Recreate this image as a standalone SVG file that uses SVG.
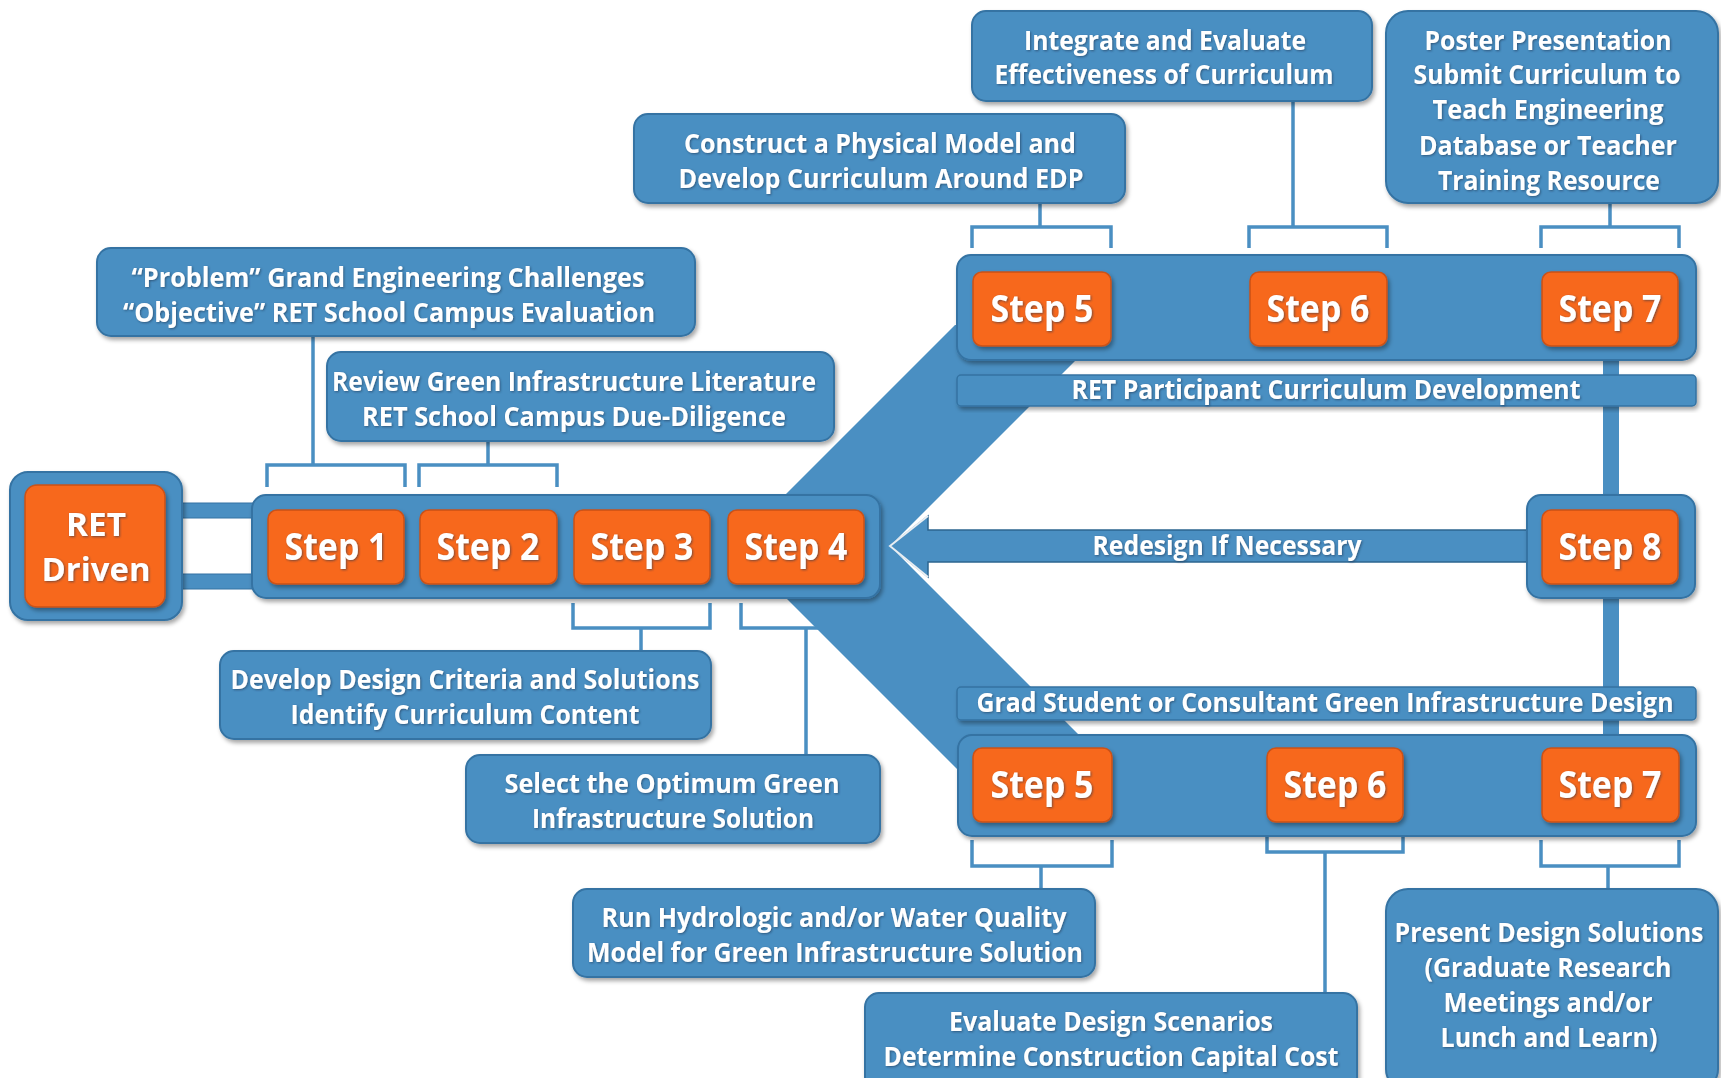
<svg xmlns="http://www.w3.org/2000/svg" width="1721" height="1078" viewBox="0 0 1721 1078">
<defs>
<filter id="sh" x="-10%" y="-10%" width="120%" height="130%"><feDropShadow dx="2" dy="3" stdDeviation="2" flood-color="#000" flood-opacity="0.35"/></filter>
<filter id="ts" x="-5%" y="-20%" width="110%" height="140%"><feDropShadow dx="1" dy="1" stdDeviation="0.8" flood-color="#1a3550" flood-opacity="0.6"/></filter>
<style>
.box{fill:#4a8fc2;stroke:#3473a3;stroke-width:2;filter:url(#sh)}
.bar{fill:#4a8fc2;stroke:#3473a3;stroke-width:1.5;filter:url(#sh)}
.or{fill:#f7671b;stroke:#c9521a;stroke-width:1.5;filter:url(#sh)}
.t{font-family:"Open Sans","Liberation Sans",sans-serif;font-weight:700;font-size:26px;fill:#fff;text-anchor:middle;filter:url(#ts)}
.st{font-size:38px}
.rt{font-size:33px}
.br{fill:none;stroke:#4a8fc2;stroke-width:3.5}
.band{fill:#4a8fc2}
</style>
</defs>
<rect width="1721" height="1078" fill="#fff"/>

<g id="connectors">
  <path class="br" d="M267,487 V465 H405 V487 M313,336 V465"/>
  <path class="br" d="M419,487 V465 H557 V487 M488,441 V465"/>
  <path class="br" d="M573,603 V628 H710 V603 M641,628 V651"/>
  <path class="br" d="M741,603 V628 H864 V603 M806,628 V755"/>
  <path class="br" d="M972,248 V227 H1111 V248 M1040,203 V227"/>
  <path class="br" d="M1249,248 V227 H1387 V248 M1293,101 V227"/>
  <path class="br" d="M1541,248 V227 H1679 V248 M1610,203 V227"/>
  <path class="br" d="M972,840 V866 H1112 V840 M1041,866 V889"/>
  <path class="br" d="M1267,836 V852 H1403 V836 M1325,852 V993"/>
  <path class="br" d="M1541,840 V866 H1679 V840 M1608,866 V889"/>
  <rect x="178" y="503" width="80" height="15" fill="#4a8fc2" stroke="#3473a3" stroke-width="1"/>
  <rect x="178" y="574" width="80" height="15" fill="#4a8fc2" stroke="#3473a3" stroke-width="1"/>
  <rect x="1603" y="350" width="16" height="392" fill="#4a8fc2"/>
  <polygon class="band" points="780,500 955,325 1111,325 890,546 1114,770 958,770 780,592"/>
  <polygon points="890,546 928,516 928,530 1530,530 1530,562 928,562 928,577" fill="#4a8fc2" stroke="#2d6590" stroke-width="1.5"/>
  <polyline points="928,516 890,546 928,577" fill="none" stroke="#e8eef3" stroke-width="2"/>
</g>

<g id="n-integrate">
  <rect class="box" x="972" y="11" width="400" height="90" rx="14"/>
  <text class="t" x="1165" y="50" textLength="282" lengthAdjust="spacingAndGlyphs">Integrate and Evaluate</text>
  <text class="t" x="1164" y="84" textLength="339" lengthAdjust="spacingAndGlyphs">Effectiveness of Curriculum</text>
</g>
<g id="n-poster">
  <rect class="box" x="1386" y="11" width="332" height="192" rx="22"/>
  <text class="t" x="1548" y="50" textLength="247" lengthAdjust="spacingAndGlyphs">Poster Presentation</text>
  <text class="t" x="1547" y="84" textLength="267" lengthAdjust="spacingAndGlyphs">Submit Curriculum to</text>
  <text class="t" x="1548" y="119" textLength="231" lengthAdjust="spacingAndGlyphs">Teach Engineering</text>
  <text class="t" x="1548" y="155" textLength="258" lengthAdjust="spacingAndGlyphs">Database or Teacher</text>
  <text class="t" x="1549" y="190" textLength="222" lengthAdjust="spacingAndGlyphs">Training Resource</text>
</g>
<g id="n-construct">
  <rect class="box" x="634" y="114" width="491" height="89" rx="14"/>
  <text class="t" x="880" y="153" textLength="392" lengthAdjust="spacingAndGlyphs">Construct a Physical Model and</text>
  <text class="t" x="881" y="188" textLength="405" lengthAdjust="spacingAndGlyphs">Develop Curriculum Around EDP</text>
</g>
<g id="n-problem">
  <rect class="box" x="97" y="248" width="598" height="88" rx="14"/>
  <text class="t" x="388" y="287" textLength="513" lengthAdjust="spacingAndGlyphs">“Problem” Grand Engineering Challenges</text>
  <text class="t" x="389" y="322" textLength="532" lengthAdjust="spacingAndGlyphs">“Objective” RET School Campus Evaluation</text>
</g>
<g id="n-review">
  <rect class="box" x="327" y="352" width="507" height="89" rx="14"/>
  <text class="t" x="574" y="391" textLength="484" lengthAdjust="spacingAndGlyphs">Review Green Infrastructure Literature</text>
  <text class="t" x="574" y="426" textLength="424" lengthAdjust="spacingAndGlyphs">RET School Campus Due-Diligence</text>
</g>

<g id="n-ret">
  <rect class="box" x="10" y="472" width="172" height="148" rx="18"/>
  <rect class="or" x="25" y="485" width="140" height="122" rx="12"/>
  <text class="t rt" x="96" y="536" textLength="60" lengthAdjust="spacingAndGlyphs">RET</text>
  <text class="t rt" x="96" y="581" textLength="109" lengthAdjust="spacingAndGlyphs">Driven</text>
</g>

<g id="n-phase1">
  <rect class="box" x="252" y="495" width="628" height="103" rx="14"/>
</g>
<g id="n-step1">
  <rect class="or" x="268" y="510" width="136" height="74" rx="9"/>
  <text class="t st" x="336" y="560" textLength="103" lengthAdjust="spacingAndGlyphs">Step 1</text>
</g>
<g id="n-step2">
  <rect class="or" x="420" y="510" width="137" height="74" rx="9"/>
  <text class="t st" x="488" y="560" textLength="103" lengthAdjust="spacingAndGlyphs">Step 2</text>
</g>
<g id="n-step3">
  <rect class="or" x="574" y="510" width="136" height="74" rx="9"/>
  <text class="t st" x="642" y="560" textLength="103" lengthAdjust="spacingAndGlyphs">Step 3</text>
</g>
<g id="n-step4">
  <rect class="or" x="728" y="510" width="136" height="74" rx="9"/>
  <text class="t st" x="796" y="560" textLength="103" lengthAdjust="spacingAndGlyphs">Step 4</text>
</g>

<g id="n-upper">
  <rect class="box" x="957" y="255" width="739" height="105" rx="14"/>
</g>
<g id="n-step5a">
  <rect class="or" x="973" y="272" width="138" height="74" rx="9"/>
  <text class="t st" x="1042" y="322" textLength="103" lengthAdjust="spacingAndGlyphs">Step 5</text>
</g>
<g id="n-step6a">
  <rect class="or" x="1250" y="272" width="137" height="74" rx="9"/>
  <text class="t st" x="1318" y="322" textLength="103" lengthAdjust="spacingAndGlyphs">Step 6</text>
</g>
<g id="n-step7a">
  <rect class="or" x="1542" y="272" width="136" height="74" rx="9"/>
  <text class="t st" x="1610" y="322" textLength="103" lengthAdjust="spacingAndGlyphs">Step 7</text>
</g>
<g id="n-ret-participant">
  <rect class="bar" x="957" y="375" width="739" height="31" rx="4"/>
  <text class="t" x="1326" y="399" textLength="509" lengthAdjust="spacingAndGlyphs">RET Participant Curriculum Development</text>
</g>

<g id="n-redesign-label">
  <text class="t" x="1227" y="555" textLength="269" lengthAdjust="spacingAndGlyphs">Redesign If Necessary</text>
</g>
<g id="n-step8">
  <rect class="box" x="1527" y="495" width="168" height="103" rx="14"/>
  <rect class="or" x="1542" y="510" width="136" height="74" rx="9"/>
  <text class="t st" x="1610" y="560" textLength="103" lengthAdjust="spacingAndGlyphs">Step 8</text>
</g>

<g id="n-grad">
  <rect class="bar" x="957" y="687" width="739" height="33" rx="4"/>
  <text class="t" x="1325" y="712" textLength="697" lengthAdjust="spacingAndGlyphs">Grad Student or Consultant Green Infrastructure Design</text>
</g>
<g id="n-lower">
  <rect class="box" x="958" y="735" width="738" height="101" rx="14"/>
</g>
<g id="n-step5b">
  <rect class="or" x="973" y="748" width="139" height="74" rx="9"/>
  <text class="t st" x="1042" y="798" textLength="103" lengthAdjust="spacingAndGlyphs">Step 5</text>
</g>
<g id="n-step6b">
  <rect class="or" x="1267" y="748" width="136" height="74" rx="9"/>
  <text class="t st" x="1335" y="798" textLength="103" lengthAdjust="spacingAndGlyphs">Step 6</text>
</g>
<g id="n-step7b">
  <rect class="or" x="1542" y="748" width="137" height="74" rx="9"/>
  <text class="t st" x="1610" y="798" textLength="103" lengthAdjust="spacingAndGlyphs">Step 7</text>
</g>

<g id="n-develop">
  <rect class="box" x="220" y="651" width="491" height="88" rx="14"/>
  <text class="t" x="465" y="689" textLength="469" lengthAdjust="spacingAndGlyphs">Develop Design Criteria and Solutions</text>
  <text class="t" x="465" y="724" textLength="349" lengthAdjust="spacingAndGlyphs">Identify Curriculum Content</text>
</g>
<g id="n-select">
  <rect class="box" x="466" y="755" width="414" height="88" rx="14"/>
  <text class="t" x="672" y="793" textLength="335" lengthAdjust="spacingAndGlyphs">Select the Optimum Green</text>
  <text class="t" x="673" y="828" textLength="282" lengthAdjust="spacingAndGlyphs">Infrastructure Solution</text>
</g>
<g id="n-run">
  <rect class="box" x="573" y="889" width="522" height="88" rx="14"/>
  <text class="t" x="834" y="927" textLength="465" lengthAdjust="spacingAndGlyphs">Run Hydrologic and/or Water Quality</text>
  <text class="t" x="835" y="962" textLength="496" lengthAdjust="spacingAndGlyphs">Model for Green Infrastructure Solution</text>
</g>
<g id="n-evaluate">
  <rect class="box" x="865" y="993" width="492" height="98" rx="14"/>
  <text class="t" x="1111" y="1031" textLength="324" lengthAdjust="spacingAndGlyphs">Evaluate Design Scenarios</text>
  <text class="t" x="1111" y="1066" textLength="455" lengthAdjust="spacingAndGlyphs">Determine Construction Capital Cost</text>
</g>
<g id="n-present">
  <rect class="box" x="1386" y="889" width="332" height="202" rx="22"/>
  <text class="t" x="1549" y="942" textLength="309" lengthAdjust="spacingAndGlyphs">Present Design Solutions</text>
  <text class="t" x="1548" y="977" textLength="247" lengthAdjust="spacingAndGlyphs">(Graduate Research</text>
  <text class="t" x="1548" y="1012" textLength="209" lengthAdjust="spacingAndGlyphs">Meetings and/or</text>
  <text class="t" x="1549" y="1047" textLength="217" lengthAdjust="spacingAndGlyphs">Lunch and Learn)</text>
</g>
</svg>
